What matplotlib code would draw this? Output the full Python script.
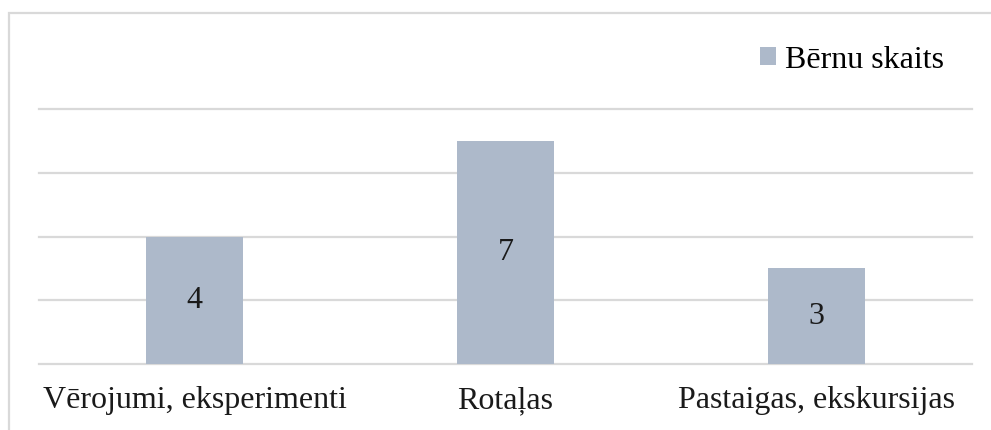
import matplotlib.pyplot as plt
import matplotlib.transforms as mtransforms
from matplotlib.patches import Rectangle

plt.rcParams["font.family"] = ["Liberation Serif", "DejaVu Serif"]

categories = ["Vērojumi, eksperimenti", "Rotaļas", "Pastaigas, ekskursijas"]
values = [4, 7, 3]
series_name = "Bērnu skaits"

W, H = 991, 430
fig = plt.figure(figsize=(W / 100, H / 100), dpi=100)

# outer chart frame (cut off at right and bottom)
fig.patches.append(Rectangle((9 / W, -0.1), 1.1, (H - 13) / H + 0.1, transform=fig.transFigure,
                             fill=False, edgecolor="#D9D9D9", lw=1.6))

ax = fig.add_axes([39 / W, (H - 364) / H, 933 / W, 255 / H])
x = list(range(len(categories)))
bars = ax.bar(x, values, width=0.312, color="#ADB9CA", zorder=2, label=series_name)
for b, v in zip(bars, values):
    ax.text(b.get_x() + b.get_width() / 2, v / 2, str(v), ha="center", va="center",
            fontsize=23, color="#1a1a1a")

ax.set_xlim(-0.5, 2.5)
ax.set_ylim(0, 8)
ax.set_yticks([0, 2, 4, 6, 8])
ax.yaxis.grid(True, color="#D9D9D9", lw=1.6)
for g in ax.get_ygridlines():
    g.set_clip_on(False)
ax.tick_params(left=False, labelleft=False, bottom=False, labelbottom=False)
for s in ax.spines.values():
    s.set_visible(False)

# category labels on a common baseline
trans = mtransforms.blended_transform_factory(ax.transData, ax.transAxes)
for xi, name in zip(x, categories):
    ax.text(xi, -44 / 255, name, transform=trans, ha="center", va="baseline",
            fontsize=23, color="#1a1a1a")

ax.legend(loc="center", bbox_to_anchor=(852 / W, (H - 60) / H), bbox_transform=fig.transFigure,
          frameon=False, fontsize=23, handlelength=0.5, handleheight=0.5, handletextpad=0.3)

fig.savefig("out.png", dpi=100)
